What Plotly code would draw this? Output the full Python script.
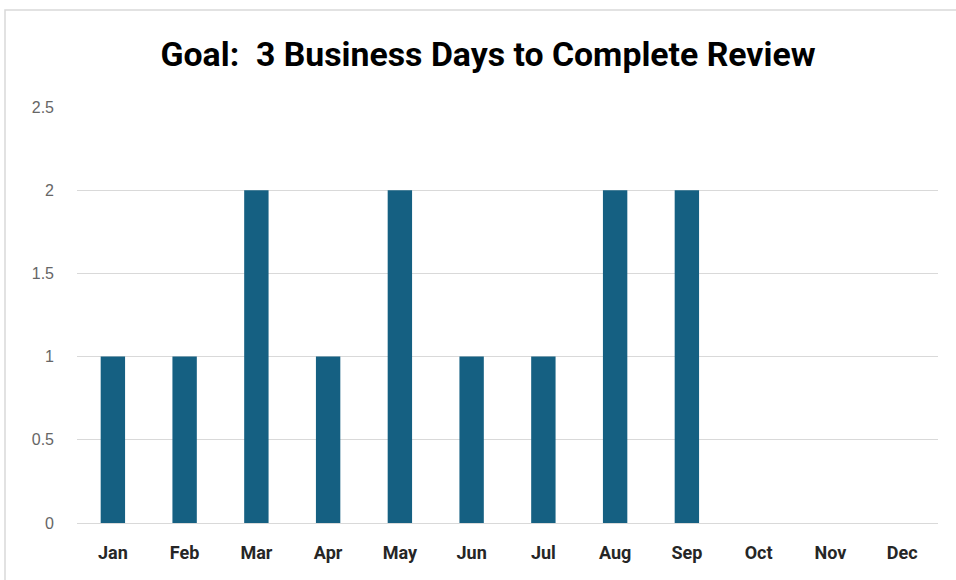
import plotly.graph_objects as go

months = ["Jan", "Feb", "Mar", "Apr", "May", "Jun", "Jul", "Aug", "Sep", "Oct", "Nov", "Dec"]
days = [1, 1, 2, 1, 2, 1, 1, 2, 2, None, None, None]
y_ticks = [0, 0.5, 1, 1.5, 2, 2.5]
y_labels = ["0", "0.5", "1", "1.5", "2", "2.5"]

W, H = 956, 580
L, R, T, B = 77, 18, 107, 57
pw, ph = W - L - R, H - T - B

fig = go.Figure(go.Bar(x=months, y=days, marker=dict(color="#156082", line=dict(width=0)),
                       width=0.34, hoverinfo="x+y"))

fig.update_layout(
    width=W, height=H,
    margin=dict(l=L, r=R, t=T, b=B),
    paper_bgcolor="white", plot_bgcolor="white",
    showlegend=False,
    title=dict(text="<b>Goal:  3 Business Days to Complete Review</b>",
               x=488 / W, xanchor="center", y=1 - 54 / H, yanchor="middle",
               font=dict(family="Roboto, sans-serif", size=33.8, color="#000000")),
    xaxis=dict(categoryorder="array", categoryarray=months, showgrid=False, showline=False,
               ticks="", tickfont=dict(family="Roboto, sans-serif", size=18, color="#262626"),
               ticklabelstandoff=17,
               tickprefix="<b>", ticksuffix="</b>", range=[-0.5, 11.5]),
    yaxis=dict(range=[0, 2.5], tickvals=y_ticks, ticktext=y_labels, showgrid=True, gridcolor="#d9d9d9",
               gridwidth=1, zeroline=True, zerolinecolor="#d9d9d9", zerolinewidth=1, ticks="",
               ticklabelstandoff=22,
               tickfont=dict(family="Liberation Sans, Arial, sans-serif", size=16, color="#666666")),
    shapes=[dict(type="rect", xref="paper", yref="paper",
                 x0=(5 - L) / pw, x1=(W + 5 - L) / pw,
                 y0=-(B + 5) / ph, y1=(H - B - 10) / ph,
                 line=dict(color="#d9d9d9", width=1.5), fillcolor="rgba(0,0,0,0)", layer="below")],
)

fig.write_html("out.html", config={"displayModeBar": False},
               post_script="document.body.style.margin='0';")
